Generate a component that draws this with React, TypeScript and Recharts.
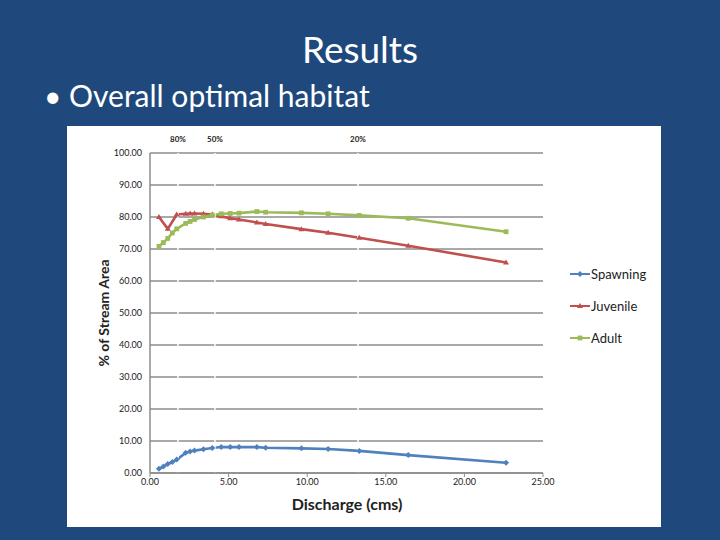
import { CartesianGrid, Line, LineChart, ReferenceLine, XAxis, YAxis } from 'recharts'

const discharge = [0.57, 0.85, 1.13, 1.42, 1.7, 2.27, 2.55, 2.83, 3.4, 3.96, 4.53, 5.1, 5.66, 6.8, 7.36, 9.63, 11.33, 13.31, 16.43, 22.65]
const spawning = [1.3, 2.0, 2.8, 3.4, 4.2, 6.3, 6.7, 7.0, 7.4, 7.8, 8.1, 8.1, 8.1, 8.1, 7.9, 7.7, 7.5, 6.9, 5.6, 3.2]
const juvenile = [80.0, null, 76.3, null, 80.8, 81.0, 81.1, 81.1, 81.0, 80.8, 80.2, 79.6, 79.2, 78.3, 77.8, 76.2, 75.1, 73.5, 71.0, 65.8]
const adult = [70.8, 72.0, 73.3, 75.0, 76.3, 78.0, 78.6, 79.2, 80.0, 80.6, 81.0, 81.1, 81.2, 81.7, 81.5, 81.3, 81.0, 80.5, 79.6, 75.4]

const xTicks = [0, 5, 10, 15, 20, 25]
const yTicks = [0, 10, 20, 30, 40, 50, 60, 70, 80, 90, 100]

// exceedance markers drawn as white lines across the plot
const thresholdValues = [1.78, 4.13, 13.23]
const thresholdLabels = ['80%', '50%', '20%']

const SERIES = [
  { key: 'Spawning', color: '#4f81bd', shape: 'diamond' },
  { key: 'Juvenile', color: '#c0504d', shape: 'triangle' },
  { key: 'Adult', color: '#9bbb59', shape: 'square' },
]

const FONT = 'Lato, "Open Sans", sans-serif'

const data = discharge.map((q, i) => ({
  q,
  Spawning: spawning[i],
  Juvenile: juvenile[i],
  Adult: adult[i],
}))

function Marker({ cx, cy, color, shape }: { cx: number; cy: number; color: string; shape: string }) {
  if (cx == null || cy == null) return null
  if (shape === 'triangle') {
    return <polygon points={`${cx},${cy - 3} ${cx + 3},${cy + 2} ${cx - 3},${cy + 2}`} fill={color} />
  }
  if (shape === 'square') {
    return <rect x={cx - 2.4} y={cy - 2.4} width={4.8} height={4.8} fill={color} />
  }
  return <polygon points={`${cx},${cy - 3} ${cx + 3},${cy} ${cx},${cy + 3} ${cx - 3},${cy}`} fill={color} />
}

export default function App() {
  return (
    <div
      style={{
        position: 'absolute',
        left: 0,
        top: 0,
        width: 720,
        height: 540,
        background: '#1f497d',
        fontFamily: FONT,
        overflow: 'hidden',
      }}
    >
      <div style={{ position: 'absolute', left: 0, width: 720, top: 26, textAlign: 'center', color: '#fff', fontSize: 37 }}>
        Results
      </div>
      <div style={{ position: 'absolute', left: 44, top: 77, color: '#fff', fontSize: 30 }}>
        • Overall optimal habitat
      </div>

      <div style={{ position: 'absolute', left: 67, top: 126, width: 594, height: 401, background: '#fff' }}>
        <LineChart width={594} height={401} data={data} margin={{ top: 27, right: 118, left: 0, bottom: 0 }}>
          <CartesianGrid vertical={false} stroke="#8c8c8c" strokeWidth={1.5} />
          <XAxis
            dataKey="q"
            type="number"
            domain={[0, 25]}
            ticks={xTicks}
            tickFormatter={(v: number) => v.toFixed(2)}
            tick={{ fill: '#222', fontSize: 9, fontFamily: FONT }}
            axisLine={{ stroke: '#8c8c8c', strokeWidth: 1.5 }}
            tickLine={{ stroke: '#8c8c8c' }}
            tickSize={4}
            height={54}
          />
          <YAxis
            type="number"
            domain={[0, 100]}
            ticks={yTicks}
            tickFormatter={(v: number) => v.toFixed(2)}
            tick={{ fill: '#222', fontSize: 9, fontFamily: FONT }}
            axisLine={{ stroke: '#8c8c8c', strokeWidth: 1.5 }}
            tickLine={false}
            width={83}
          />
          {SERIES.map((s) => (
            <Line
              key={s.key}
              type="linear"
              dataKey={s.key}
              stroke={s.color}
              strokeWidth={2.6}
              connectNulls
              dot={(p: any) => <Marker key={`${s.key}-${p.index}`} cx={p.value == null ? null : p.cx} cy={p.cy} color={s.color} shape={s.shape} />}
              activeDot={false}
              isAnimationActive={false}
            />
          ))}
          {thresholdValues.map((x, i) => (
            <ReferenceLine
              key={thresholdLabels[i]}
              x={x}
              stroke="#ffffff"
              strokeWidth={1.5}
              label={{ value: thresholdLabels[i], position: 'top', offset: 11, fill: '#222', fontSize: 8, fontWeight: 700, fontFamily: FONT }}
            />
          ))}
        </LineChart>

        <div
          style={{
            position: 'absolute',
            left: 503,
            top: 139,
            display: 'grid',
            gap: 14,
            fontSize: 13,
            color: '#222',
          }}
        >
          {SERIES.map((s) => (
            <div key={s.key} style={{ display: 'flex', alignItems: 'center', gap: 1, height: 18 }}>
              <svg width={20} height={10}>
                <line x1={0} y1={5} x2={20} y2={5} stroke={s.color} strokeWidth={2} />
                <Marker cx={10} cy={5} color={s.color} shape={s.shape} />
              </svg>
              <span>{s.key}</span>
            </div>
          ))}
        </div>

        <div
          style={{
            position: 'absolute',
            left: 36,
            top: 187,
            transform: 'translate(-50%, -50%) rotate(-90deg)',
            whiteSpace: 'nowrap',
            fontSize: 14,
            fontWeight: 700,
            color: '#222',
          }}
        >
          % of Stream Area
        </div>
        <div
          style={{
            position: 'absolute',
            left: 280,
            top: 377,
            transform: 'translate(-50%, -50%)',
            whiteSpace: 'nowrap',
            fontSize: 16,
            fontWeight: 700,
            color: '#222',
          }}
        >
          Discharge (cms)
        </div>
      </div>
    </div>
  )
}
